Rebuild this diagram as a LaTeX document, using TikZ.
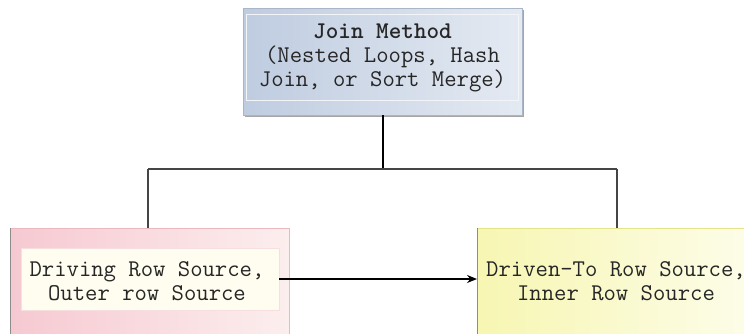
\documentclass[tikz,border=0pt]{standalone}
\usetikzlibrary{arrows.meta}
\definecolor{topL}{HTML}{BFCCE0}
\definecolor{topR}{HTML}{E4EAF2}
\definecolor{topB}{HTML}{A9B6C8}
\definecolor{pinkL}{HTML}{F6C9D1}
\definecolor{pinkR}{HTML}{FCEEEE}
\definecolor{pinkB}{HTML}{EBB8C0}
\definecolor{cream}{HTML}{FFFDEF}
\definecolor{yelL}{HTML}{F7F6B2}
\definecolor{yelR}{HTML}{FDFDEA}
\definecolor{yelB}{HTML}{E4E48A}
\definecolor{edgegray}{HTML}{8C8C8C}
\definecolor{busgray}{HTML}{454545}
\tikzset{
  boxfont/.style={font=\ttfamily\fontsize{24}{24}\selectfont, align=center, text=black!85},
  plainbox/.style={rectangle, inner sep=0pt, outer sep=0pt},
  conn/.style={draw=busgray, line width=1.4pt},
  mainconn/.style={draw=black, line width=2pt},
  arrowconn/.style={draw=black, line width=1.4pt, -{Stealth[length=10pt,width=8pt]}}
}
\begin{document}
\begin{tikzpicture}[x=1pt,y=-1pt]
\useasboundingbox (0,0) rectangle (744,333);
\clip (0,0) rectangle (744,333);
% top box with shadow
\fill[black!35] (245,10) rectangle (524,117);
\node[plainbox, minimum width=279pt, minimum height=107pt, left color=topL, right color=topR, draw=topB, line width=0.8pt] (join) at (382.5,61.5) {};
\draw[white!85!topB, line width=0.9pt] (246,14) rectangle (518,100);
\node[boxfont] (jointext) at (382.5,58) {\textbf{Join Method}\\(Nested Loops, Hash\\Join, or Sort Merge)};
% left box
\node[plainbox, minimum width=279pt, minimum height=120pt, left color=pinkL, right color=pinkR, draw=pinkB, line width=0.8pt] (left) at (149.5,288) {};
\draw[edgegray, line width=1pt] (10,228) -- (10,340);
\node[plainbox, minimum width=258pt, minimum height=62pt, fill=cream, draw=pinkR!70!pinkB, line width=0.6pt] (drv) at (150,279) {};
\node[boxfont] (drvtext) at (147,281) {Driving Row Source,\\Outer row Source};
% right box
\node[plainbox, minimum width=279pt, minimum height=120pt, left color=yelL, right color=yelR, draw=yelB, line width=0.8pt] (right) at (616.5,288) {};
\draw[edgegray, line width=1pt] (477,228) -- (477,340);
\node[boxfont] (rgttext) at (616,281) {Driven-To Row Source,\\Inner Row Source};
% connectors
\coordinate (bus) at (382.5,169);
\coordinate (busL) at (148,169);
\coordinate (busR) at (617,169);
\draw[mainconn] (join.south) -- (bus);
\draw[conn] (busL) -- (busR);
\draw[conn] (busL) -- (busL |- left.north);
\draw[conn] (busR) -- (busR |- right.north);
\draw[arrowconn] (drv.east) -- (right.west |- drv.east);
\end{tikzpicture}
\end{document}
